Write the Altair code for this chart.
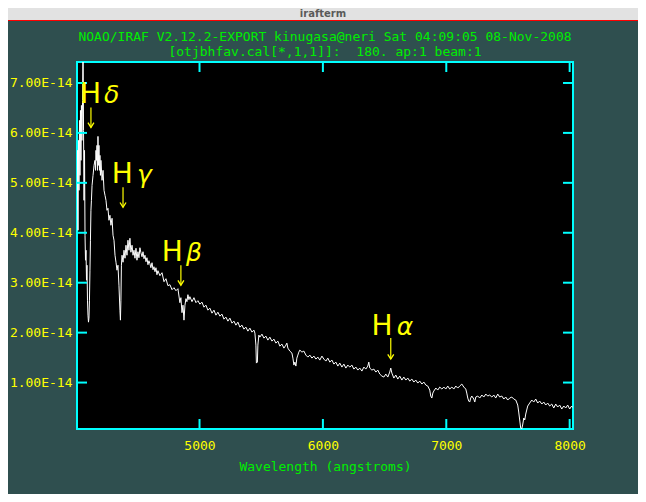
import altair as alt
import pandas as pd

# ---------------- data (flux in units of 1e-14 erg/s/cm2/A) ----------------
WAVELENGTH = [
    4007, 4011, 4015, 4019, 4023, 4027, 4031, 4035, 4039, 4043,
    4047, 4052, 4056, 4060, 4064, 4068, 4072, 4076, 4080, 4084,
    4088, 4092, 4096, 4100, 4104, 4108, 4112, 4116, 4120, 4124,
    4129, 4137, 4145, 4153, 4157, 4161, 4165, 4169, 4173, 4177,
    4181, 4185, 4189, 4193, 4197, 4201, 4210, 4218, 4226, 4234,
    4242, 4250, 4258, 4266, 4274, 4282, 4291, 4299, 4307, 4315,
    4323, 4331, 4339, 4347, 4355, 4359, 4363, 4367, 4372, 4380,
    4388, 4396, 4404, 4412, 4420, 4428, 4436, 4444, 4453, 4461,
    4469, 4477, 4485, 4493, 4501, 4509, 4517, 4525, 4534, 4542,
    4550, 4558, 4566, 4574, 4582, 4590, 4598, 4606, 4615, 4623,
    4631, 4639, 4647, 4655, 4663, 4679, 4696, 4712, 4728, 4744,
    4760, 4777, 4793, 4809, 4825, 4841, 4849, 4858, 4866, 4874,
    4882, 4890, 4898, 4906, 4914, 4922, 4939, 4955, 4971, 4987,
    5003, 5020, 5036, 5052, 5068, 5084, 5101, 5117, 5133, 5149,
    5165, 5182, 5198, 5214, 5230, 5246, 5263, 5279, 5295, 5311,
    5327, 5344, 5360, 5376, 5392, 5408, 5425, 5441, 5449, 5457,
    5461, 5469, 5473, 5481, 5489, 5506, 5522, 5538, 5554, 5570,
    5587, 5603, 5619, 5635, 5651, 5668, 5684, 5700, 5708, 5716,
    5732, 5749, 5757, 5765, 5773, 5781, 5789, 5797, 5805, 5813,
    5830, 5846, 5862, 5878, 5894, 5911, 5927, 5943, 5959, 5975,
    5992, 6008, 6024, 6040, 6056, 6073, 6089, 6105, 6121, 6137,
    6154, 6170, 6186, 6202, 6218, 6235, 6251, 6267, 6283, 6299,
    6316, 6332, 6348, 6364, 6372, 6380, 6397, 6413, 6429, 6445,
    6461, 6478, 6494, 6510, 6526, 6542, 6550, 6559, 6575, 6591,
    6607, 6623, 6640, 6656, 6672, 6688, 6704, 6721, 6737, 6753,
    6769, 6785, 6802, 6818, 6834, 6850, 6866, 6874, 6883, 6891,
    6899, 6915, 6931, 6947, 6964, 6980, 6996, 7012, 7028, 7045,
    7061, 7077, 7093, 7109, 7126, 7142, 7158, 7166, 7174, 7182,
    7190, 7198, 7207, 7223, 7231, 7239, 7255, 7271, 7288, 7304,
    7320, 7336, 7352, 7369, 7385, 7401, 7417, 7433, 7450, 7466,
    7482, 7498, 7514, 7531, 7547, 7563, 7579, 7587, 7595, 7603,
    7611, 7619, 7628, 7636, 7644, 7652, 7660, 7676, 7693, 7709,
    7725, 7741, 7757, 7774, 7790, 7806, 7822, 7838, 7855, 7871,
    7887, 7903, 7919, 7936, 7952, 7968, 7984, 8000, 8016, 8024,
]
FLUX = [
    4.45, 5.65, 4.05, 5.85, 4.85, 6.25, 5.15, 6.45, 5.45, 6.55,
    5.85, 6.65, 7.90, 6.05, 4.65, 5.65, 3.95, 3.45, 3.65, 3.05,
    3.35, 2.65, 2.35, 2.21, 2.29, 2.65, 3.25, 3.85, 4.45, 4.65,
    4.95, 5.15, 5.35, 5.45, 5.25, 5.65, 5.45, 5.75, 5.25, 5.93,
    5.35, 5.75, 5.25, 5.55, 5.15, 5.45, 5.05, 5.25, 4.85, 4.75,
    4.65, 4.45, 4.49, 4.25, 4.35, 4.15, 4.29, 3.95, 3.85, 3.55,
    3.41, 3.25, 3.35, 2.95, 2.45, 2.25, 2.65, 3.35, 3.55, 3.41,
    3.65, 3.49, 3.75, 3.55, 3.85, 3.65, 3.89, 3.61, 3.75, 3.55,
    3.65, 3.49, 3.69, 3.45, 3.62, 3.50, 3.70, 3.60, 3.52, 3.62,
    3.48, 3.55, 3.42, 3.50, 3.36, 3.44, 3.38, 3.30, 3.40, 3.26,
    3.32, 3.22, 3.30, 3.16, 3.24, 3.14, 3.20, 3.02, 3.08, 2.94,
    2.96, 2.86, 2.90, 2.84, 2.88, 2.60, 2.70, 2.40, 2.55, 2.25,
    2.55, 2.68, 2.62, 2.76, 2.66, 2.72, 2.62, 2.70, 2.60, 2.64,
    2.57, 2.61, 2.51, 2.55, 2.45, 2.49, 2.39, 2.45, 2.35, 2.41,
    2.33, 2.37, 2.27, 2.31, 2.23, 2.29, 2.19, 2.23, 2.15, 2.21,
    2.11, 2.15, 2.07, 2.11, 2.03, 2.09, 2.01, 2.05, 1.99, 1.75,
    1.39, 1.41, 1.75, 1.95, 1.91, 1.97, 1.89, 1.93, 1.85, 1.91,
    1.83, 1.87, 1.79, 1.83, 1.73, 1.77, 1.69, 1.75, 1.79, 1.69,
    1.63, 1.59, 1.49, 1.35, 1.41, 1.33, 1.49, 1.55, 1.61, 1.65,
    1.61, 1.63, 1.55, 1.51, 1.55, 1.49, 1.53, 1.47, 1.51, 1.45,
    1.53, 1.47, 1.43, 1.49, 1.41, 1.45, 1.37, 1.41, 1.33, 1.39,
    1.31, 1.37, 1.29, 1.35, 1.31, 1.35, 1.27, 1.31, 1.25, 1.29,
    1.23, 1.31, 1.27, 1.33, 1.41, 1.29, 1.25, 1.27, 1.21, 1.25,
    1.17, 1.13, 1.11, 1.17, 1.11, 1.21, 1.29, 1.19, 1.09, 1.15,
    1.07, 1.13, 1.05, 1.11, 1.05, 1.09, 1.03, 1.07, 1.01, 1.05,
    0.99, 1.03, 0.97, 1.01, 0.95, 0.93, 0.85, 0.73, 0.69, 0.79,
    0.83, 0.89, 0.85, 0.91, 0.87, 0.91, 0.87, 0.93, 0.87, 0.91,
    0.87, 0.93, 0.89, 0.93, 0.97, 0.91, 0.87, 0.79, 0.69, 0.63,
    0.61, 0.69, 0.73, 0.67, 0.61, 0.71, 0.73, 0.69, 0.75, 0.71,
    0.77, 0.73, 0.75, 0.71, 0.75, 0.69, 0.77, 0.71, 0.73, 0.67,
    0.71, 0.65, 0.69, 0.71, 0.67, 0.65, 0.55, 0.41, 0.25, 0.09,
    0.07, 0.15, 0.29, 0.25, 0.37, 0.45, 0.53, 0.59, 0.65, 0.61,
    0.67, 0.59, 0.63, 0.57, 0.61, 0.55, 0.59, 0.53, 0.57, 0.49,
    0.57, 0.51, 0.55, 0.47, 0.53, 0.49, 0.55, 0.47, 0.53, 0.50,
]

X_TICKS = [5000, 6000, 7000, 8000]
Y_TICKS = [1, 2, 3, 4, 5, 6, 7]

LINE_GREEK = ["\u03b4", "\u03b3", "\u03b2", "\u03b1"]   # H-delta, gamma, beta, alpha
ARROW_WAVE = [4120, 4380, 4849, 6550]
ARROW_TOP = [6.51, 4.91, 3.35, 1.89]
ARROW_BOTTOM = [6.11, 4.51, 2.95, 1.47]
LABEL_H_WAVE = [4031, 4288, 4693, 6394]
LABEL_G_WAVE = [4226, 4493, 4890, 6599]
LABEL_BASE = [6.59, 5.00, 3.44, 1.95]

TITLE_LINES = [
    "NOAO/IRAF V2.12.2-EXPORT kinugasa@neri Sat 04:09:05 08-Nov-2008",
    "[otjbhfav.cal[*,1,1]]:\u00a0 180. ap:1 beam:1",
]
WINDOW_TITLE = ["irafterm"]

# ---------------- styles ----------------
BG = "#2F4F4F"
CYAN = "#00FFFF"
YELLOW = "#FFFF00"
GREEN = "#00EE00"
MONO = "DejaVu Sans Mono"
W, H = 496, 367

xs = alt.Scale(domain=[4007, 8027], nice=False, zero=False)
ys = alt.Scale(domain=[0.07, 7.42], nice=False, zero=False)

x_axis = alt.Axis(values=X_TICKS, format="d", domain=False, ticks=False, grid=False,
                  labelColor=YELLOW, labelFont=MONO, labelFontSize=13,
                  labelPadding=10, labelFlush=False,
                  titleColor=GREEN, titleFont=MONO, titleFontSize=13,
                  titleFontWeight="normal", titlePadding=8)
y_axis = alt.Axis(values=Y_TICKS, domain=False, ticks=False, grid=False,
                  labelExpr="format(datum.value, '.2f') + 'E-14'",
                  labelColor=YELLOW, labelFont=MONO, labelFontSize=13,
                  labelPadding=5)


def xenc(field):
    return alt.X(f"{field}:Q", scale=xs, axis=x_axis, title="Wavelength (angstroms)")


def yenc(field):
    return alt.Y(f"{field}:Q", scale=ys, axis=y_axis, title=None)


spec_df = pd.DataFrame({"wave": WAVELENGTH, "flux": FLUX})
xt_df = pd.DataFrame({"wave": X_TICKS})
yt_df = pd.DataFrame({"flux": Y_TICKS})
ann_df = pd.DataFrame({
    "greek": LINE_GREEK, "wave": ARROW_WAVE, "top": ARROW_TOP,
    "bottom": ARROW_BOTTOM, "hwave": LABEL_H_WAVE, "gwave": LABEL_G_WAVE,
    "base": LABEL_BASE,
})
win_df = pd.DataFrame({"name": WINDOW_TITLE})
title_df = pd.DataFrame({"line": TITLE_LINES, "row": [0, 1]})

# window chrome (title bar of the terminal window)
bar = alt.Chart(win_df).mark_rect(color="#E2E2E2").encode(
    x=alt.value(-69), x2=alt.value(561), y=alt.value(-54), y2=alt.value(-42))
bar_line = alt.Chart(win_df).mark_rule(color="#FF0000", strokeWidth=1).encode(
    x=alt.value(-69), x2=alt.value(561), y=alt.value(-41.5))
bar_text = alt.Chart(win_df).mark_text(
    font="DejaVu Sans", fontSize=10, fontWeight="bold", color="#5A5A5A",
    baseline="middle", align="center").encode(
    x=alt.value(246), y=alt.value(-48), text="name:N")

# plot header (two lines, as IRAF draws it)
title1 = alt.Chart(title_df).transform_filter("datum.row == 0").mark_text(
    font=MONO, fontSize=13, color=GREEN, baseline="middle", align="center").encode(
    x=alt.value(W / 2), y=alt.value(-25), text="line:N")
title2 = alt.Chart(title_df).transform_filter("datum.row == 1").mark_text(
    font=MONO, fontSize=13, color=GREEN, baseline="middle", align="center").encode(
    x=alt.value(W / 2), y=alt.value(-10.5), text="line:N")

spectrum = alt.Chart(spec_df).mark_line(color="white", strokeWidth=1, clip=True).encode(
    x=xenc("wave"), y=yenc("flux"))

tick_style = dict(color=CYAN, strokeWidth=2)
tb = alt.Chart(xt_df).mark_rule(**tick_style).encode(
    x=xenc("wave"), y=alt.value(H), y2=alt.value(H - 10))
tt = alt.Chart(xt_df).mark_rule(**tick_style).encode(
    x=xenc("wave"), y=alt.value(0), y2=alt.value(10))
tl = alt.Chart(yt_df).mark_rule(**tick_style).encode(
    y=yenc("flux"), x=alt.value(0), x2=alt.value(10))
tr = alt.Chart(yt_df).mark_rule(**tick_style).encode(
    y=yenc("flux"), x=alt.value(W), x2=alt.value(W - 10))

arrows = alt.Chart(ann_df).mark_rule(color=YELLOW, strokeWidth=1.2).encode(
    x=xenc("wave"), y=yenc("top"), y2="bottom:Q")
heads = alt.Chart(ann_df).mark_point(
    shape="M-1,-1.6L0,0L1,-1.6", filled=False, size=36, color=YELLOW,
    strokeWidth=1.3, opacity=1).encode(x=xenc("wave"), y=yenc("bottom"))
h_text = alt.Chart(ann_df).mark_text(
    text="H", align="left", baseline="alphabetic", font="DejaVu Sans",
    fontSize=28, color=YELLOW).encode(x=xenc("hwave"), y=yenc("base"))
g_text = alt.Chart(ann_df).mark_text(
    align="left", baseline="alphabetic", font="DejaVu Sans", fontStyle="italic",
    fontSize=25, color=YELLOW).encode(x=xenc("gwave"), y=yenc("base"), text="greek:N")

chart = alt.layer(
    bar, bar_line, bar_text, title1, title2, spectrum, tb, tt, tl, tr,
    arrows, heads, h_text, g_text
).properties(
    width=W, height=H,
    padding={"left": 69, "top": 54, "right": 65, "bottom": 65},
    autosize=alt.AutoSizeParams(type="none"),
    background=BG,
).configure_view(stroke=CYAN, strokeWidth=2, fill="black")

chart.save("out.html", embed_options={"renderer": "svg", "actions": False})
